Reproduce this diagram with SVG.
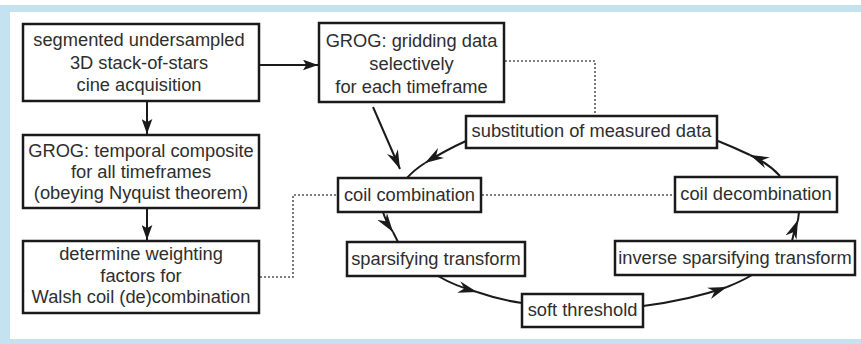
<svg xmlns="http://www.w3.org/2000/svg" width="861" height="344" viewBox="0 0 861 344">
<defs>
<style>
.box{fill:#fff;stroke:#1a1a1a;stroke-width:2.5}
.t{font-family:"Liberation Sans",Arial,sans-serif;font-size:18.3px;fill:#2e2e2e;text-anchor:middle}
.ln{fill:none;stroke:#1a1a1a;stroke-width:2}
.dot{fill:none;stroke:#555;stroke-width:1.6;stroke-dasharray:2 2}
</style>
<marker id="tri" viewBox="0 0 14 10" refX="14" refY="5" markerWidth="15" markerHeight="11" markerUnits="userSpaceOnUse" orient="auto">
<path d="M0,0 L14,5 L0,10 L3,5 z" fill="#1a1a1a"/>
</marker>
<marker id="st" viewBox="0 0 16 10" refX="16" refY="5" markerWidth="19" markerHeight="12" markerUnits="userSpaceOnUse" orient="auto">
<path d="M0,0 L16,5 L0,10 L5,5 z" fill="#1a1a1a"/>
</marker>
</defs>
<rect x="0" y="0" width="861" height="344" fill="#fff"/>
<rect x="0" y="5" width="861" height="339" fill="#c4e2ef"/>
<rect x="10" y="12" width="851" height="327" fill="#fff"/>

<g id="connectors">
<path class="ln" d="M147,102 L147,134" marker-end="url(#tri)"/>
<path class="ln" d="M147,209 L147,240" marker-end="url(#tri)"/>
<path class="ln" d="M260,65 L318,65" marker-end="url(#tri)"/>
<path class="ln" d="M373,107 L400,169" marker-end="url(#st)"/>
<path class="ln" d="M466,141 Q446,150 425,163" marker-end="url(#st)"/>
<path class="ln" d="M425,163 Q414,170 407,178"/>
<path class="ln" d="M383,212 Q386,222 393,232" marker-end="url(#st)"/>
<path class="ln" d="M393,232 L398,242"/>
<path class="ln" d="M438,276 Q455,286 477,292" marker-end="url(#st)"/>
<path class="ln" d="M477,292 Q500,300 522,303"/>
<path class="ln" d="M643,306 Q690,300 727,287" marker-end="url(#st)"/>
<path class="ln" d="M727,287 Q742,281 752,275"/>
<path class="ln" d="M792,241 Q794,230 798,220" marker-end="url(#st)"/>
<path class="ln" d="M798,220 L799,212"/>
<path class="ln" d="M780,176 Q768,163 750,155" marker-end="url(#st)"/>
<path class="ln" d="M750,155 Q733,147 718,141"/>
<path class="dot" d="M260,277 L293,277 L293,195 L338,195"/>
<path class="dot" d="M482,195 L675,195"/>
<path class="dot" d="M505,61 L595,61 L595,116"/>
</g>

<g id="acq">
<rect class="box" x="23" y="24" width="236" height="77"/>
<text class="t" x="139" y="46">segmented undersampled</text>
<text class="t" x="139" y="69">3D stack-of-stars</text>
<text class="t" x="139" y="91">cine acquisition</text>
</g>
<g id="composite">
<rect class="box" x="23" y="135" width="236" height="73"/>
<text class="t" x="141" y="157">GROG: temporal composite</text>
<text class="t" x="141" y="178">for all timeframes</text>
<text class="t" x="141" y="199">(obeying Nyquist theorem)</text>
</g>
<g id="weights">
<rect class="box" x="23" y="241" width="236" height="72"/>
<text class="t" x="141" y="260">determine weighting</text>
<text class="t" x="141" y="282">factors for</text>
<text class="t" x="141" y="303">Walsh coil (de)combination</text>
</g>
<g id="gridding">
<rect class="box" x="319" y="23" width="185" height="79"/>
<text class="t" x="411.5" y="47">GROG: gridding data</text>
<text class="t" x="411.5" y="70">selectively</text>
<text class="t" x="411.5" y="93">for each timeframe</text>
</g>
<g id="substitution">
<rect class="box" x="466" y="116" width="251" height="32"/>
<text class="t" x="591.5" y="137">substitution of measured data</text>
</g>
<g id="coilcomb">
<rect class="box" x="338" y="178" width="143" height="34"/>
<text class="t" x="409.5" y="201">coil combination</text>
</g>
<g id="coildecomb">
<rect class="box" x="675" y="177" width="162" height="35"/>
<text class="t" x="756" y="200">coil decombination</text>
</g>
<g id="sparse">
<rect class="box" x="347" y="242" width="178" height="34"/>
<text class="t" x="436" y="265">sparsifying transform</text>
</g>
<g id="thresh">
<rect class="box" x="522" y="294" width="121" height="33"/>
<text class="t" x="582.5" y="316">soft threshold</text>
</g>
<g id="invsparse">
<rect class="box" x="615" y="241" width="240" height="34"/>
<text class="t" x="735" y="264">inverse sparsifying transform</text>
</g>
</svg>
